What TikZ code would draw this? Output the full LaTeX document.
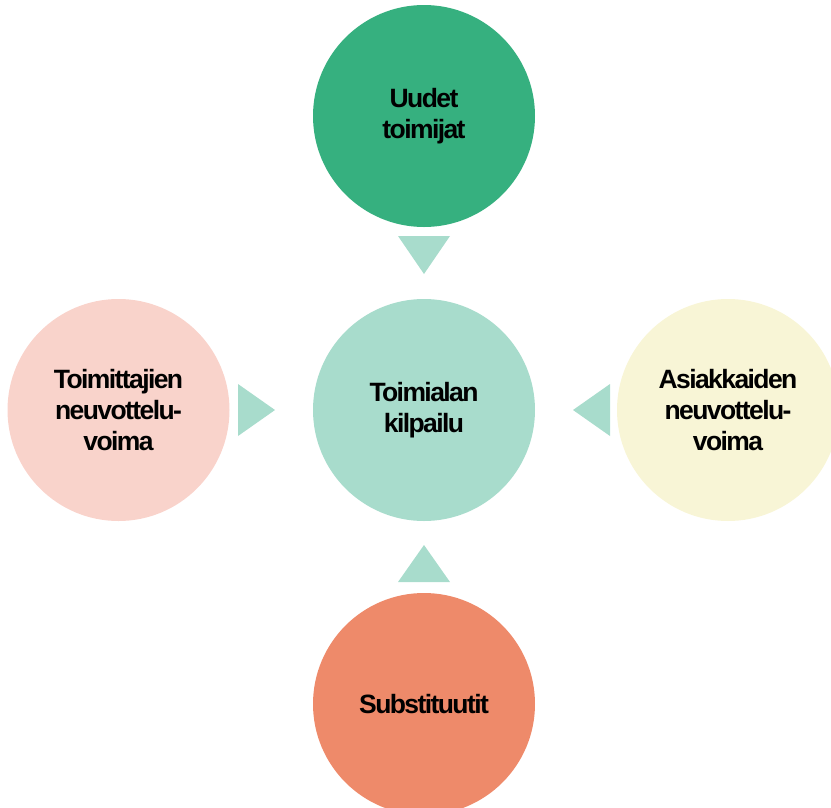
\documentclass[tikz,border=0pt]{standalone}
\usepackage{fontspec}
\setmainfont{Liberation Sans}[LetterSpace=-6]
\usepackage{xcolor}
\usetikzlibrary{calc}
\definecolor{vihrea}{HTML}{36B07F}
\definecolor{minttu}{HTML}{A8DCCC}
\definecolor{roosa}{HTML}{F9D3CB}
\definecolor{kerma}{HTML}{F8F5D6}
\definecolor{lohi}{HTML}{EE8A6A}
\tikzset{
	voima/.style={
			circle, draw=none, minimum size=222pt, inner sep=0pt,
			align=center, font=\fontsize{26.5}{31}\selectfont\bfseries
		},
	nuoli/.style={fill=minttu, draw=none}
}

\begin{document}
\begin{tikzpicture}[x=1pt,y=-1pt]
            \useasboundingbox (0,0) rectangle (831,807);
            \node[voima, fill=minttu] (k) at (424,410) {Toimialan\\kilpailu};
            \node[voima, fill=vihrea] (u) at (424,116) {Uudet\\toimijat};
            \node[voima, fill=roosa] (t) at (118.5,410) {Toimittajien\\neuvottelu-\\voima};
            \node[voima, fill=kerma] (a) at (728,410) {Asiakkaiden\\neuvottelu-\\voima};
            \node[voima, fill=lohi] (s) at (424,704) {Substituutit};
            \fill[nuoli] (398,236) -- (450,236) -- (424,274) -- cycle;
            \fill[nuoli] (238,384) -- (238,436) -- (275,410) -- cycle;
            \fill[nuoli] (610,384) -- (610,436) -- (573,410) -- cycle;
            \fill[nuoli] (398,582) -- (450,582) -- (424,545) -- cycle;
        \end{tikzpicture}
\end{document}
